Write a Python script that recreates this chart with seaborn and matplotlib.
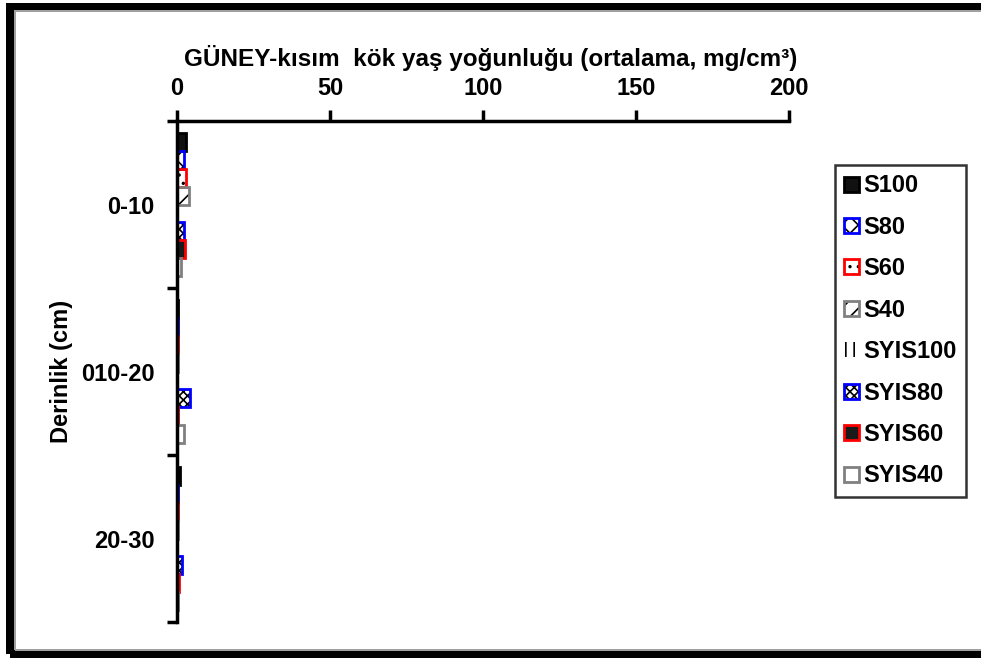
import numpy as np
import pandas as pd
import matplotlib
matplotlib.use("Agg")
import matplotlib.pyplot as plt
import seaborn as sns
from matplotlib.patches import Patch, Rectangle
from matplotlib.legend_handler import HandlerTuple

# Root fresh-weight density per depth band (mg/cm3)
depths = ["0-10", "010-20", "20-30"]
series_names = ["S100", "S80", "S60", "S40", "SYIS100", "SYIS80", "SYIS60", "SYIS40"]
S100 = [2.8, 0.2, 1.0]
S80 = [2.2, 0.3, 0.2]
S60 = [2.8, 0.3, 0.4]
S40 = [4.0, 0.2, 0.2]
SYIS100 = [0.5, 0.8, 0.3]
SYIS80 = [2.2, 4.3, 1.6]
SYIS60 = [2.6, 0.4, 0.5]
SYIS40 = [1.2, 2.2, 0.2]
x_ticks = [0, 50, 100, 150, 200]

values = [S100, S80, S60, S40, SYIS100, SYIS80, SYIS60, SYIS40]
df = pd.DataFrame(
    [(d, name, v) for name, vals in zip(series_names, values) for d, v in zip(depths, vals)],
    columns=["depth", "series", "value"],
)

# fill, hatch, edge colour for each series
styles = {
    "S100":    dict(face="#111111", hatch=None,   edge="#000000"),
    "S80":     dict(face="white",   hatch="xx",   edge="#0000ff"),
    "S60":     dict(face="white",   hatch="..",   edge="#ff0000"),
    "S40":     dict(face="white",   hatch="//",   edge="#808080"),
    "SYIS100": dict(face="white",   hatch="||",   edge=None),
    "SYIS80":  dict(face="white",   hatch="xxxx", edge="#0000ff"),
    "SYIS60":  dict(face="#1a1a1a", hatch=None,   edge="#ff0000"),
    "SYIS40":  dict(face="white",   hatch=None,   edge="#808080"),
}

sns.set_theme(style="white")
plt.rcParams["font.family"] = ["Liberation Sans", "DejaVu Sans"]
plt.rcParams["font.weight"] = "bold"
plt.rcParams["hatch.linewidth"] = 1.2
for key in ["text.color", "axes.labelcolor", "xtick.color", "ytick.color"]:
    plt.rcParams[key] = "black"

W, H = 981, 658
fig = plt.figure(figsize=(W / 100, H / 100), dpi=100)
ax = fig.add_axes([177 / W, 1 - 622 / H, (789 - 177) / W, (622 - 121) / H])

sns.barplot(data=df, x="value", y="depth", hue="series", hue_order=series_names,
            order=depths, orient="h", width=0.86, errorbar=None, saturation=1,
            legend=False, ax=ax)

for name, cont in zip(series_names, ax.containers):
    st = styles[name]
    for bar in cont:
        bar.set_facecolor(st["face"])
        bar.set_linewidth(0)
        if st["hatch"]:
            bar.set_hatch(st["hatch"])
            bar.set_edgecolor("black")
        else:
            bar.set_edgecolor(st["face"])
        if st["edge"]:
            ax.add_patch(Rectangle((bar.get_x(), bar.get_y()), bar.get_width(), bar.get_height(),
                                   fill=False, edgecolor=st["edge"], linewidth=2, zorder=bar.get_zorder() + 0.1))

ax.set_xlim(0, 200)
ax.set_ylim(2.5, -0.5)
ax.set_xticks(x_ticks)
ax.xaxis.tick_top()
ax.xaxis.set_label_position("top")
ax.set_xlabel("GÜNEY-kısım  kök yaş yoğunluğu (ortalama, mg/cm³)", fontsize=17.5,
              fontweight="bold", labelpad=8, color="black")
ax.xaxis.label.set_x(0.513)
ax.set_ylabel("Derinlik (cm)", fontsize=17, fontweight="bold", labelpad=6, color="black")
ax.set_yticks(range(len(depths)))
ax.set_yticklabels(depths)
ax.set_yticks([-0.5, 0.5, 1.5, 2.5], minor=True)

for side in ["right", "bottom"]:
    ax.spines[side].set_visible(False)
for side in ["top", "left"]:
    ax.spines[side].set_visible(True)
    ax.spines[side].set_linewidth(2.5)
    ax.spines[side].set_color("black")

ax.tick_params(axis="x", which="major", direction="out", length=8, width=2.5, color="black",
               labelcolor="black", labelsize=17, pad=7, top=True, bottom=False)
ax.tick_params(axis="y", which="major", length=0, labelsize=17, pad=16, labelcolor="black")
ax.tick_params(axis="y", which="minor", direction="out", length=7, width=2.5, color="black", left=True)
for lab in ax.get_xticklabels() + ax.get_yticklabels():
    lab.set_fontweight("bold")

# legend swatches: hatch layer plus coloured frame
handles = []
for name in series_names:
    st = styles[name]
    layers = [Patch(facecolor=st["face"], hatch=st["hatch"],
                    edgecolor="black" if st["hatch"] else st["face"], linewidth=0)]
    if st["edge"]:
        layers.append(Patch(fill=False, edgecolor=st["edge"], linewidth=2))
    handles.append(tuple(layers))

leg = ax.legend(handles, series_names, handler_map={tuple: HandlerTuple(ndivide=1)},
                loc="upper left", bbox_to_anchor=(835 / W, 1 - 165 / H), bbox_transform=fig.transFigure,
                frameon=True, fancybox=False, handlelength=0.6, handleheight=0.6,
                handletextpad=0.2, labelspacing=0.78, borderpad=0.4, borderaxespad=0,
                prop=dict(size=17, weight="bold"), labelcolor="black")
leg.get_frame().set_edgecolor("black")
leg.get_frame().set_linewidth(1.8)

# outer frame around the figure
fig.add_artist(Rectangle((10 / W, 1 - 654 / H), (995 - 10) / W, (654 - 6.5) / H,
                         transform=fig.transFigure, fill=False, edgecolor="black",
                         linewidth=8 * 0.72, clip_on=False))
fig.add_artist(Rectangle((15 / W, 1 - 649.5 / H), (995 - 15) / W, (649.5 - 11) / H,
                         transform=fig.transFigure, fill=False, edgecolor="#a0a0a0",
                         linewidth=2 * 0.72, clip_on=False))

fig.savefig("out.png", dpi=100, facecolor="white")
